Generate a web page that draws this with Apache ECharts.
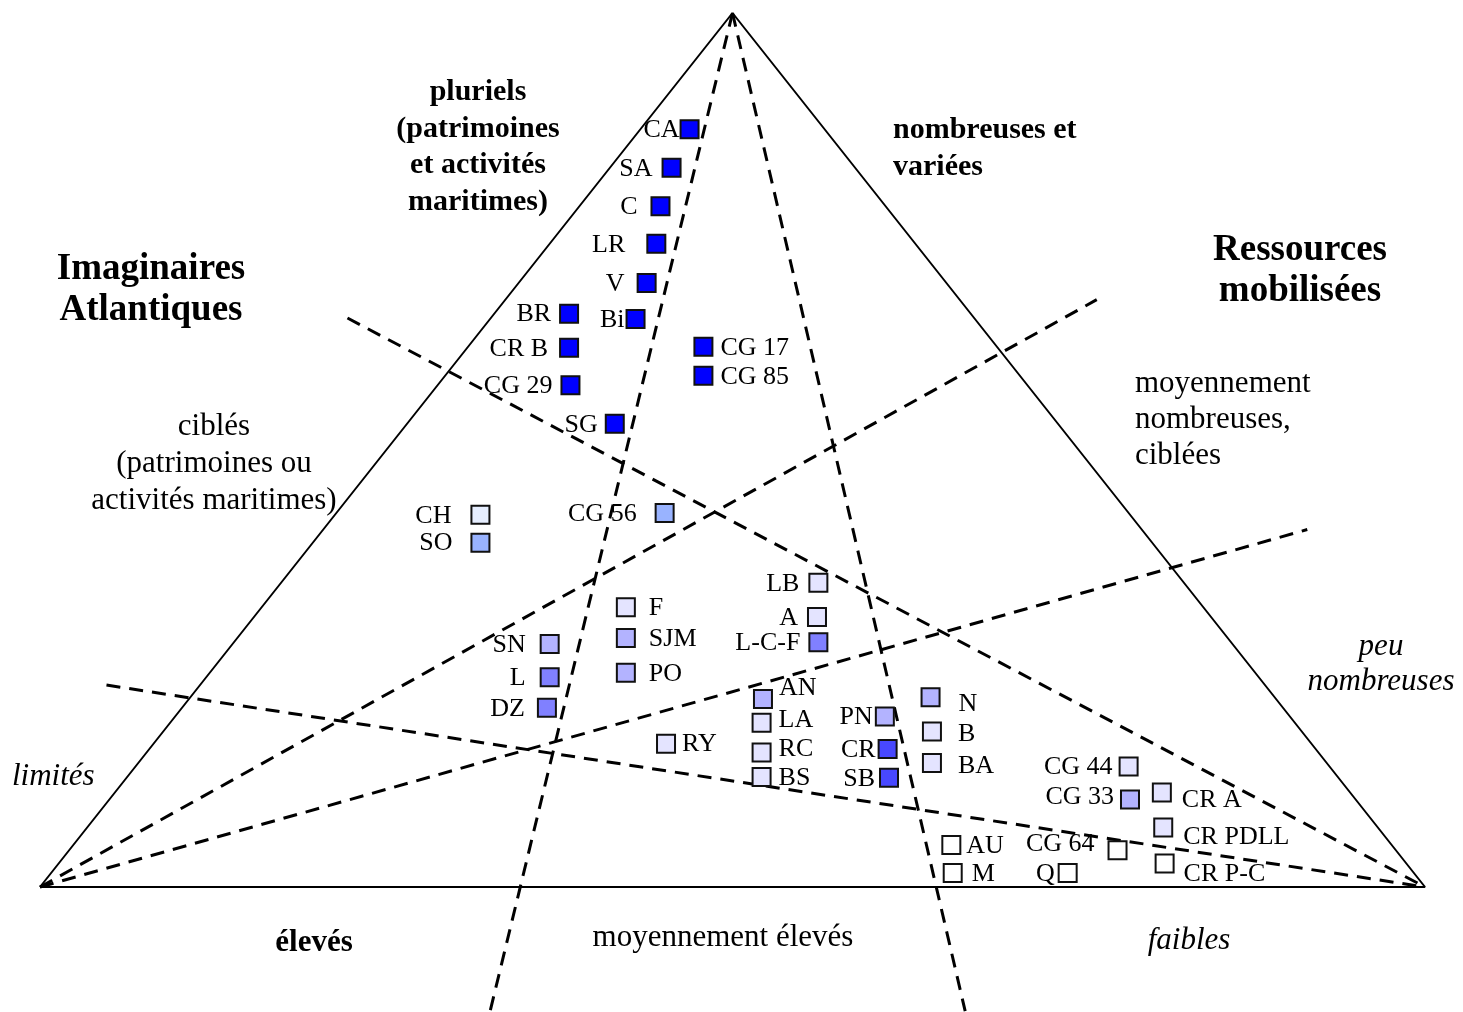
<!DOCTYPE html>
<html>
<head>
<meta charset="utf-8">
<title>Imaginaires Atlantiques / Ressources mobilisées</title>
<script src="https://cdn.jsdelivr.net/npm/echarts@6/dist/echarts.min.js"></script>
<style>
  html, body { margin: 0; padding: 0; background: #fff; }
  #chart { width: 1463px; height: 1012px; }
</style>
</head>
<body>
<div id="chart"></div>
<script>
// triangle space: base from 0 to 100 (x), height 0 to 100 (y)
const pointNames = ['CA', 'SA', 'C', 'LR', 'V', 'Bi', 'BR', 'CR B', 'CG 29', 'SG', 'CG 17', 'CG 85',
  'CH', 'SO', 'CG 56', 'LB', 'A', 'L-C-F', 'F', 'SJM', 'PO', 'SN', 'L', 'DZ',
  'AN', 'LA', 'RC', 'BS', 'RY', 'PN', 'CR', 'SB', 'N', 'B', 'BA',
  'CG 44', 'CG 33', 'CR A', 'CR PDLL', 'CR P-C', 'CG 64', 'AU', 'M', 'Q']
const pointX = [46.9, 45.6, 44.8, 44.5, 43.8, 43.0, 38.2, 38.2, 38.3, 41.5, 47.9, 47.9,
  31.8, 31.8, 45.1, 56.2, 56.1, 56.2, 42.3, 42.3, 42.3, 36.8, 36.8, 36.6,
  52.2, 52.1, 52.1, 52.1, 45.2, 61.0, 61.2, 61.3, 64.3, 64.4, 64.4,
  78.6, 78.7, 81.0, 81.1, 81.2, 77.8, 65.8, 65.9, 74.2]
const pointY = [86.7, 82.3, 77.9, 73.6, 69.1, 65.0, 65.6, 61.7, 57.4, 53.0, 61.8, 58.5,
  42.6, 39.4, 42.8, 34.8, 30.9, 28.0, 32.0, 28.5, 24.5, 27.8, 24.0, 20.5,
  21.5, 18.8, 15.4, 12.6, 16.4, 19.5, 15.8, 12.5, 21.7, 17.8, 14.2,
  13.8, 10.0, 10.8, 6.8, 2.7, 4.2, 4.8, 1.6, 1.6]
// shade level of each square (0 = darkest blue, 7 = white)
const pointLevel = [0, 0, 0, 0, 0, 0, 0, 0, 0, 0, 0, 0,
  6, 4, 4, 5, 5, 2, 5, 3, 3, 3, 2, 2,
  3, 5, 5, 5, 5, 3, 1, 1, 3, 5, 5,
  5, 3, 5, 5, 7, 7, 7, 7, 7]

// separating lines, [x1, y1, x2, y2]
const triangle = [[0, 0], [50, 100], [100, 0], [0, 0]]
const dashedLines = [
  [50, 100, 32.5, -14.2],
  [50, 100, 66.8, -14.2],
  [22.2, 65.1, 100, 0],
  [0, 0, 76.3, 67.2],
  [0, 0, 91.5, 40.9],
  [4.8, 23.1, 100, 0]
]

const levelColors = ['#0000ff', '#4848ff', '#8080ff', '#b3b3ff', '#99b3ff', '#e4e4ff', '#e6eeff', '#ffffff']

// label side, gap, vertical shift
const labelLayout = {
  'CA': ['left', 0, 0], 'SA': ['left', 9, 0], 'C': ['left', 13, 0], 'LR': ['left', 21, 0],
  'V': ['left', 12, 0], 'Bi': ['left', 1, 0], 'BR': ['left', 8, 0], 'CR B': ['left', 11, 0],
  'CG 29': ['left', 8, 0], 'SG': ['left', 7, 0], 'CG 17': ['right', 7, 0], 'CG 85': ['right', 7, 0],
  'CH': ['left', 19, 0], 'SO': ['left', 18, 0], 'CG 56': ['left', 18, 0],
  'LB': ['left', 9, 0], 'A': ['left', 9, 0], 'L-C-F': ['left', 8, 0],
  'F': ['right', 13, 0], 'SJM': ['right', 13, 0], 'PO': ['right', 13, 0],
  'SN': ['left', 14, 0], 'L': ['left', 14, 0], 'DZ': ['left', 12, 0],
  'AN': ['right', 6, -12], 'LA': ['right', 7, -4], 'RC': ['right', 7, -4], 'BS': ['right', 7, 0],
  'RY': ['right', 6, 0], 'PN': ['left', 2, 0], 'CR': ['left', 2, 0], 'SB': ['left', 4, 0],
  'N': ['right', 18, 6], 'B': ['right', 16, 2], 'BA': ['right', 16, 2],
  'CG 44': ['left', 6, 0], 'CG 33': ['left', 6, -3], 'CR A': ['right', 10, 7],
  'CR PDLL': ['right', 10, 9], 'CR P-C': ['right', 9, 10], 'CG 64': ['left', 13, -7],
  'AU': ['right', 5, 0], 'M': ['right', 9, 0], 'Q': ['left', 3, 0]
}

const serif = '"Liberation Serif", "Times New Roman", serif'

// free text of the diagram: [text, x, y, align, style, line height]
const notes = [
  ['pluriels\n(patrimoines\net activités\nmaritimes)', 478, 147, 'center', 'bold 30px', 36.5],
  ['nombreuses et\nvariées', 893, 149, 'left', 'bold 30px', 37],
  ['Imaginaires\nAtlantiques', 151, 290, 'center', 'bold 37px', 41],
  ['Ressources\nmobilisées', 1300, 271, 'center', 'bold 37px', 41],
  ['ciblés\n(patrimoines ou\nactivités maritimes)', 214, 464, 'center', '31px', 37],
  ['moyennement\nnombreuses,\nciblées', 1135, 420, 'left', '31px', 36],
  ['peu\nnombreuses', 1381, 664, 'center', 'italic 31px', 35],
  ['limités', 12, 777, 'left', 'italic 31px', 34],
  ['élevés', 314, 943, 'center', 'bold 31px', 34],
  ['moyennement élevés', 723, 938, 'center', '31px', 34],
  ['faibles', 1189, 941, 'center', 'italic 31px', 34]
]

const chart = echarts.init(document.getElementById('chart'))

const scatterData = pointNames.map((name, i) => {
  const lay = labelLayout[name]
  return {
    name: name,
    value: [pointX[i], pointY[i]],
    itemStyle: { color: levelColors[pointLevel[i]] },
    label: { position: lay[0], distance: lay[1], offset: [0, lay[2] + 1] }
  }
})

const series = [
  {
    type: 'line',
    data: triangle,
    symbol: 'none',
    clip: false,
    silent: true,
    lineStyle: { color: '#000', width: 2 },
    z: 2
  }
]

dashedLines.forEach(d => {
  series.push({
    type: 'line',
    data: [[d[0], d[1]], [d[2], d[3]]],
    symbol: 'none',
    clip: false,
    silent: true,
    lineStyle: { color: '#000', width: 3, type: [14, 9] },
    z: 3
  })
})

series.push({
  type: 'scatter',
  data: scatterData,
  symbol: 'rect',
  symbolSize: 18,
  clip: false,
  itemStyle: { borderColor: '#111', borderWidth: 2, opacity: 1 },
  label: {
    show: true,
    formatter: '{b}',
    color: '#000',
    fontFamily: serif,
    fontSize: 26
  },
  z: 5
})

const option = {
  backgroundColor: '#fff',
  animation: false,
  grid: { left: 40, right: 38, top: 13, bottom: 125 },
  xAxis: { type: 'value', min: 0, max: 100, show: false },
  yAxis: { type: 'value', min: 0, max: 100, show: false },
  series: series,
  graphic: notes.map(n => ({
    type: 'text',
    x: n[1],
    y: n[2],
    z: 10,
    style: {
      text: n[0],
      font: n[4] + ' ' + serif,
      fill: '#000',
      align: n[3],
      textAlign: n[3],
      verticalAlign: 'middle',
      textVerticalAlign: 'middle',
      lineHeight: n[5]
    }
  }))
}

chart.setOption(option)
</script>
</body>
</html>
